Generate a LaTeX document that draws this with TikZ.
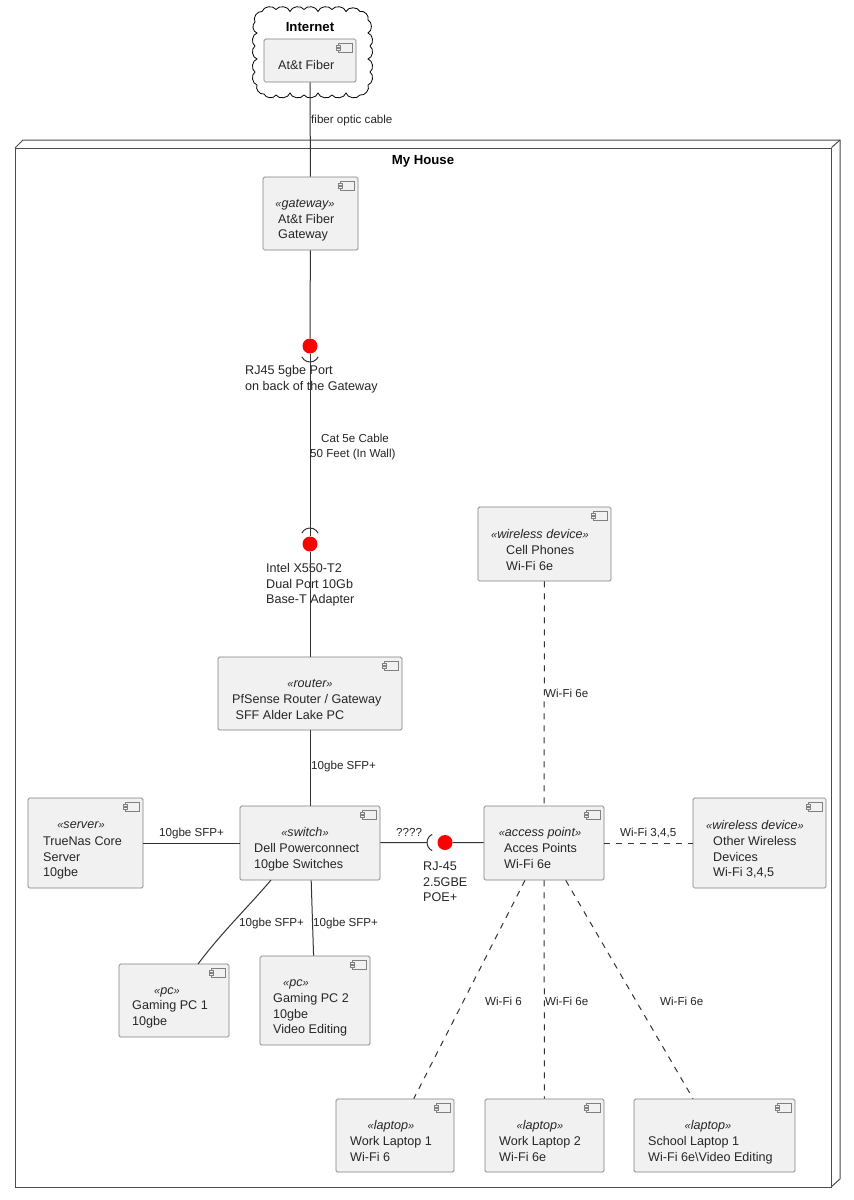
\documentclass[tikz,border=0pt]{standalone}
\usepackage{fontspec}
\setmainfont{Liberation Sans}
\usetikzlibrary{calc}
\definecolor{boxfill}{HTML}{F1F1F1}
\definecolor{boxline}{HTML}{808080}
\definecolor{wireline}{HTML}{333333}
\tikzset{
  x=1pt,y=-1pt,
  compbox/.style={draw=boxline,fill=boxfill,line width=0.7pt,rounded corners=1.5pt,inner sep=0pt,rectangle},
  iconbox/.style={draw=boxline,fill=boxfill,line width=0.6pt},
  boxtext/.style={font=\fontsize{12.6}{15.5}\selectfont,align=left,inner sep=0pt,anchor=north west,yshift=6.55pt,text=black!85},
  stereo/.style={font=\fontsize{12.6}{15.5}\selectfont\itshape,inner sep=0pt,anchor=base,yshift=-4.3pt,text=black!85},
  edgelabel/.style={font=\fontsize{11.6}{15.2}\selectfont,align=left,inner sep=0pt,anchor=north west,yshift=6.55pt,text=black!85},
  titletext/.style={font=\fontsize{13.2}{15}\selectfont\bfseries,inner sep=0pt,anchor=center},
  port/.style={circle,fill=red,draw=none,minimum size=15pt,inner sep=0pt},
  solidwire/.style={draw=wireline,line width=1pt},
  dashwire/.style={draw=wireline,line width=1pt,dash pattern=on 6pt off 6pt},
  socket/.style={draw=wireline,line width=1pt},
  housewall/.style={draw=black!70,line width=1pt},
}
\newcommand{\compbox}[7]{%
  \node[compbox,minimum width={(#4-#2)*1pt},minimum height={(#5-#3)*1pt}] (#1) at ({(#2+#4)/2},{(#3+#5)/2}) {};
  \draw[iconbox] ({#4-17.5},{#3+4}) rectangle ({#4-4},{#3+13});
  \draw[iconbox] ({#4-19.5},{#3+6}) rectangle ({#4-15.5},{#3+8});
  \draw[iconbox] ({#4-19.5},{#3+9.5}) rectangle ({#4-15.5},{#3+11.5});
  \node[boxtext] (#1text) at (#6) {\strut #7\strut};
}
\newcommand{\stereolabel}[3]{\node[stereo] (#1st) at (#2) {{\fontsize{11}{15}\selectfont\guillemotleft}#3{\fontsize{11}{15}\selectfont\guillemotright}};}
\begin{document}
\begin{tikzpicture}
\useasboundingbox (0,0) rectangle (854,1200);
% cloud
\draw[draw=black,line width=0.8pt,fill=white] (262,11.5)
  \foreach \px/\py in {276/9.5,290/11.5,304/9.5,318/11.5,332/9.5,346/11.5,360/11.5,
    368/20,368/33,370/46,368/59,370/72,368/85,
    360/95,346/93,332/95,318/93,304/95,290/93,276/95,264/94,
    257/85,255/72,257/59,255/46,257/33,255/22,262/11.5}
  { to[bend left=65] (\px,\py) };
\node[titletext] (inettitle) at (310,27.5) {Internet};
\compbox{fiber}{264}{39}{356}{82}{278,65}{At\&t Fiber}
% house
\draw[housewall,fill=white] (15,148) -- (23,140) -- (840,140) -- (840,1179) -- (831,1187);
\node[housewall,fill=white,rectangle,inner sep=0pt,minimum width=816pt,minimum height=1039pt] (house) at (423,667.5) {};
\draw[housewall] (house.north east) -- (840,140);
\node[titletext] (housetitle) at (423,161) {My House};
% components
\compbox{gw}{263}{177}{358}{250}{278,218.5}{At\&t Fiber\\Gateway}
\stereolabel{gw}{305,203}{gateway}
\compbox{router}{218}{657}{402}{730}{232,699}{PfSense Router / Gateway\\\hspace*{3.4pt}SFF Alder Lake PC}
\stereolabel{router}{310,683}{router}
\compbox{switch}{240}{806}{380}{880}{254,848}{Dell Powerconnect\\10gbe Switches}
\stereolabel{switch}{305,832}{switch}
\compbox{server}{28}{798}{143}{888}{43,841}{TrueNas Core\\Server\\10gbe}
\stereolabel{server}{81,824.5}{server}
\compbox{ap}{484}{806}{604}{880}{504,848}{Acces Points\\Wi-Fi 6e}
\stereolabel{ap}{540,832}{access point}
\compbox{other}{693}{798}{826}{888}{713,841}{Other Wireless\\Devices\\Wi-Fi 3,4,5}
\stereolabel{other}{755,825}{wireless device}
\compbox{cell}{478}{507}{611}{581}{506,550}{Cell Phones\\Wi-Fi 6e}
\stereolabel{cell}{540,534}{wireless device}
\compbox{pca}{119}{964}{229}{1037}{132,1005}{Gaming PC 1\\10gbe}
\stereolabel{pca}{167,990}{pc}
\compbox{pcb}{260}{956}{370}{1045}{273,998}{Gaming PC 2\\10gbe\\Video Editing}
\stereolabel{pcb}{296,982}{pc}
\compbox{lapa}{336}{1099}{454}{1172}{350,1141}{Work Laptop 1\\Wi-Fi 6}
\stereolabel{lapa}{391,1125}{laptop}
\compbox{lapb}{485}{1099}{604}{1172}{499,1141}{Work Laptop 2\\Wi-Fi 6e}
\stereolabel{lapb}{540,1125}{laptop}
\compbox{lapc}{634}{1099}{795}{1172}{648,1141}{School Laptop 1\\Wi-Fi 6e\textbackslash Video Editing}
\stereolabel{lapc}{708,1125}{laptop}
% ports
\node[port] (gwport) at (310,346) {};
\node[port] (nicport) at (310,544) {};
\node[port] (poeport) at (445,842.5) {};
\coordinate (gwcup) at (310,353);
\coordinate (niccup) at (310,537);
\coordinate (poecup) at (436,842.5);
\node[boxtext] (gwportlabel) at (245,370) {\strut RJ45 5gbe Port\\on back of the Gateway\strut};
\node[boxtext] (nicportlabel) at (266,568) {\strut Intel X550-T2\\Dual Port 10Gb\\Base-T Adapter\strut};
\node[boxtext] (poeportlabel) at (423,866) {\strut RJ-45\\2.5GBE\\POE+\strut};
% sockets
\path (gwcup) ++(205:9pt) coordinate (gwcupstart);
\path (niccup) ++(25:9pt) coordinate (niccupstart);
\path (poecup) ++(115:9pt) coordinate (poecupstart);
\draw[socket] (gwcupstart) arc[start angle=205,end angle=335,radius=9pt];
\draw[socket] (niccupstart) arc[start angle=25,end angle=155,radius=9pt];
\draw[socket] (poecupstart) arc[start angle=115,end angle=245,radius=9pt];
% connectors
\draw[solidwire] (fiber) -- (gw);
\draw[solidwire] (gw) -- (gwport);
\draw[solidwire] (gwport) -- (nicport);
\draw[solidwire] (nicport) -- (router);
\draw[solidwire] (router) -- (switch);
\draw[solidwire] (server) -- (switch);
\coordinate (pcastart) at (271,880);
\coordinate (pcaend) at (198,964);
\draw[solidwire] (pcastart) .. controls (250,905) and (222,932) .. (pcaend);
\draw[solidwire] (switch) -- (pcb);
\coordinate (poecupleft) at (427,842.5);
\draw[solidwire] (switch) -- (poecupleft);
\draw[solidwire] (poeport) -- (ap);
\draw[dashwire] (cell) -- (ap);
\draw[dashwire] (ap) -- (other);
\draw[dashwire] (ap) -- (lapa);
\draw[dashwire] (ap) -- (lapb);
\draw[dashwire] (ap) -- (lapc);
% edge labels
\node[edgelabel] (lfiber) at (311,119) {\strut fiber optic cable\strut};
\node[edgelabel] (lcat) at (310,438) {\strut\hspace*{11pt}Cat 5e Cable\\50 Feet (In Wall)\strut};
\node[edgelabel] (lsfpa) at (311,765) {\strut 10gbe SFP+\strut};
\node[edgelabel] (lsfpb) at (159,832) {\strut 10gbe SFP+\strut};
\node[edgelabel] (lsfpc) at (239,922) {\strut 10gbe SFP+\strut};
\node[edgelabel] (lsfpd) at (313,922) {\strut 10gbe SFP+\strut};
\node[edgelabel] (lqq) at (396,832) {\strut ????\strut};
\node[edgelabel] (lwa) at (545,693) {\strut Wi-Fi 6e\strut};
\node[edgelabel] (lwb) at (620,832) {\strut Wi-Fi 3,4,5\strut};
\node[edgelabel] (lwc) at (485,1001) {\strut Wi-Fi 6\strut};
\node[edgelabel] (lwd) at (545,1001) {\strut Wi-Fi 6e\strut};
\node[edgelabel] (lwe) at (660,1001) {\strut Wi-Fi 6e\strut};
\end{tikzpicture}
\end{document}
